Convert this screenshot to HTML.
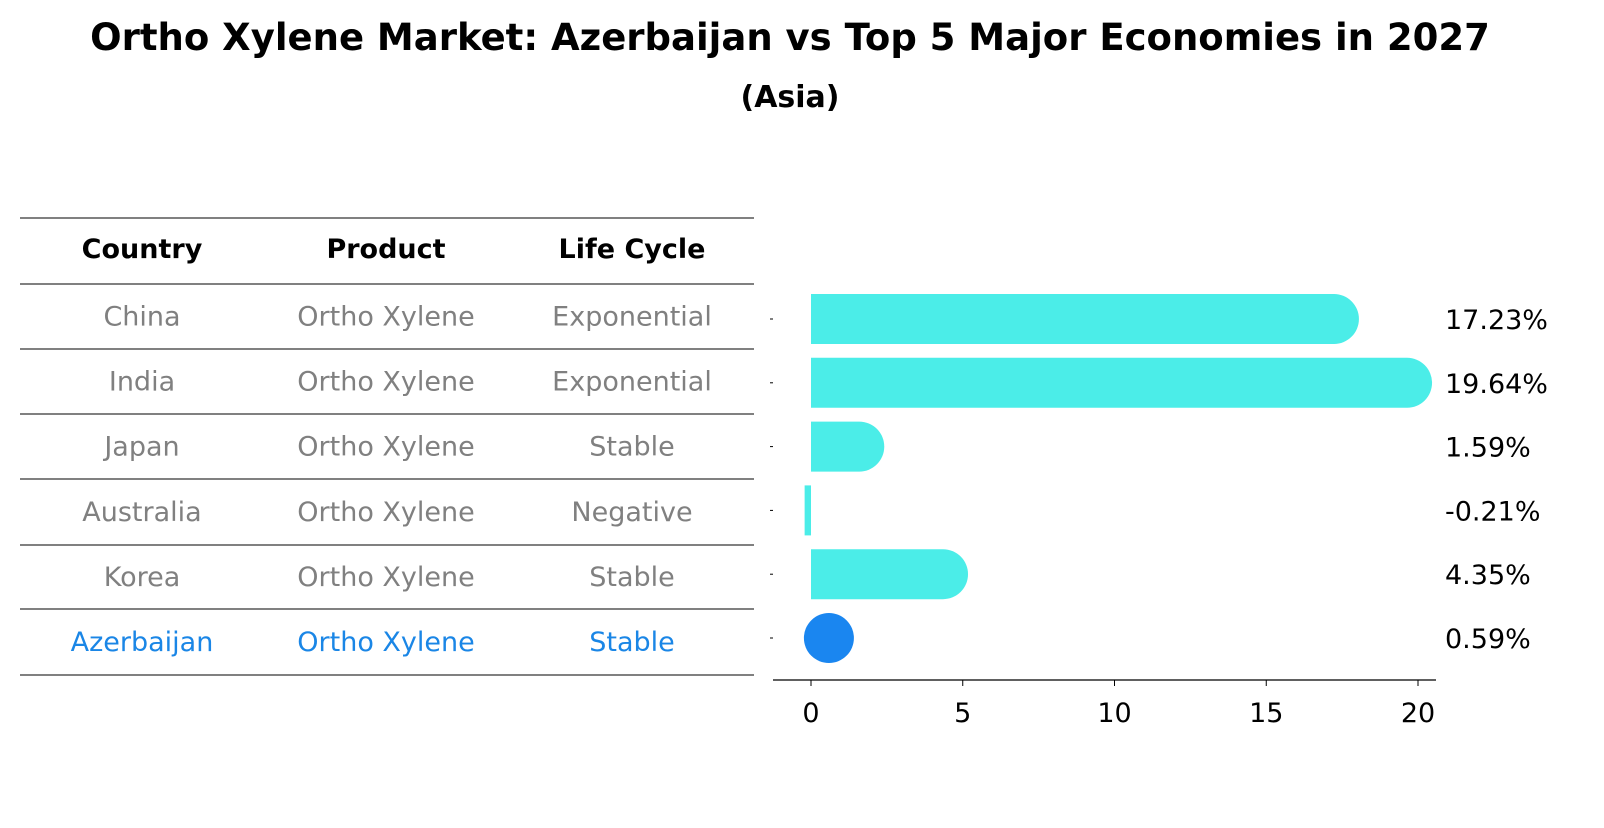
<!DOCTYPE html>
<html><head><meta charset="utf-8"><style>
body{margin:0;background:#fff;font-family:"Liberation Sans","DejaVu Sans",sans-serif}
</style></head><body>
<svg width="1604" height="823" viewBox="0 0 1604 823" xmlns="http://www.w3.org/2000/svg" font-family="DejaVu Sans, Liberation Sans, sans-serif">
<text x="790" y="50" text-anchor="middle" font-size="37" font-weight="bold">Ortho Xylene Market: Azerbaijan vs Top 5 Major Economies in 2027</text>
<text x="790" y="107" text-anchor="middle" font-size="30" font-weight="bold">(Asia)</text>
<g id="table"></g>
<g id="bars"></g>
</svg>
<script>
const countries=["China","India","Japan","Australia","Korea","Azerbaijan"];
const products=["Ortho Xylene","Ortho Xylene","Ortho Xylene","Ortho Xylene","Ortho Xylene","Ortho Xylene"];
const lifecycles=["Exponential","Exponential","Stable","Negative","Stable","Stable"];
const values=[17.23,19.64,1.59,-0.21,4.35,0.59];
const ticks=[0,5,10,15,20];
const NS="http://www.w3.org/2000/svg";
function mk(tag,attrs,parent,text){const e=document.createElementNS(NS,tag);for(const k in attrs)e.setAttribute(k,attrs[k]);if(text!==undefined)e.textContent=text;parent.appendChild(e);return e;}
const tbl=document.getElementById('table');
const lineYs=[218,284,349,414,479,545,609,675];
lineYs.forEach(y=>{const l=mk('line',{x1:20,x2:754,y1:y,y2:y,stroke:'#000','stroke-width':1},tbl);

});
const colX=[142,386,632];
["Country","Product","Life Cycle"].forEach((h,i)=>{const t=mk('text',{x:colX[i],y:258,'text-anchor':'middle','font-size':27,'font-weight':'bold'},tbl,h);

});
countries.forEach((c,r)=>{const y=(lineYs[r+1]+lineYs[r+2])/2+9;const col=c==="Azerbaijan"?'#1a86e6':'#808080';
[c,products[r],lifecycles[r]].forEach((v,i)=>{const t=mk('text',{x:colX[i],y:y,'text-anchor':'middle','font-size':27,fill:col},tbl,v);

});});
const g=document.getElementById('bars');
const x0=811,sc=(1418-811)/20;
const xs=v=>x0+v*sc;
const ys=i=>319+i*63.8;
const bh=50;
values.forEach((v,i)=>{const cy=ys(i);let e;
if(countries[i]==="Azerbaijan"){e=mk('circle',{cx:xs(v),cy:cy,r:25,fill:'#1a86f0'},g);}
else if(v<0){e=mk('rect',{x:xs(v),y:cy-bh/2,width:x0-xs(v),height:bh,fill:'#4bede8'},g);}
else{const xe=xs(v),r=bh/2;e=mk('path',{d:`M${x0},${cy-r} L${xe},${cy-r} A${r},${r} 0 0 1 ${xe},${cy+r} L${x0},${cy+r} Z`,fill:'#4bede8'},g);}


const t=mk('text',{x:1445,y:cy+10,'font-size':27},g,v.toFixed(2)+'%');


const tk=mk('line',{x1:770,x2:773,y1:cy,y2:cy,stroke:'#000'},g);

});
const ax=mk('line',{x1:773,x2:1436,y1:680,y2:680,stroke:'#000','stroke-width':1.3},g);


ticks.forEach(t=>{const l=mk('line',{x1:xs(t),x2:xs(t),y1:680,y2:686,stroke:'#000'},g);


const tx=mk('text',{x:xs(t),y:722,'text-anchor':'middle','font-size':27},g,String(t));

});
</script>
</body></html>
